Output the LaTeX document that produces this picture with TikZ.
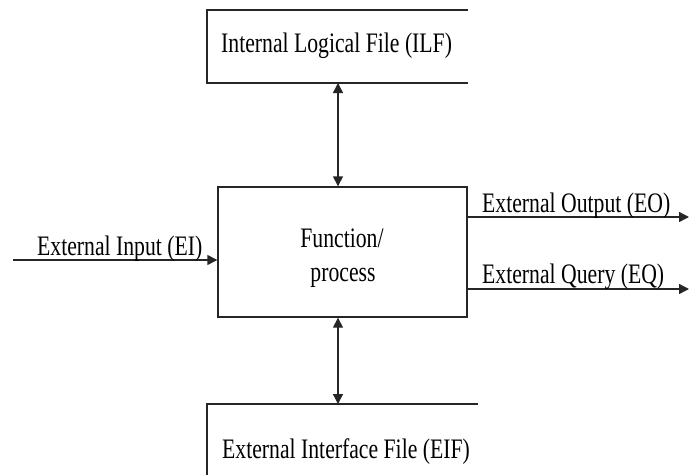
\documentclass[tikz,border=0pt]{standalone}
\usepackage{fontspec}
\setmainfont{Liberation Serif}
\usetikzlibrary{arrows.meta}
\newcommand{\tallText}[1]{\scalebox{1}[1.3]{#1}}
\tikzset{
  ln/.style={line width=1.4pt, draw=black!85},
  tip/.tip={Triangle[length=10pt,width=10pt]},
  arr/.style={ln, -tip},
  darr/.style={ln, tip-tip},
  lbl/.style={anchor=base west, inner sep=0pt, font=\fontsize{21.7}{26}\selectfont},
  ctr/.style={anchor=base, inner sep=0pt, font=\fontsize{21.7}{26}\selectfont},
}
\begin{document}
\begin{tikzpicture}[x=1pt,y=-1pt]
\useasboundingbox (0,0) rectangle (689,475);

% open-ended store boxes
\draw[ln] (468,10) -- (207,10) -- (207,83) -- (468,83);
\draw[ln] (478,404) -- (207,404) -- (207,475);
\node[lbl] (ilf) at (221,52) {\tallText{Internal Logical File (ILF)}};
\node[lbl] (eif) at (222,458) {\tallText{External Interface File (EIF)}};
\coordinate (ilfb) at (338,83);
\coordinate (eift) at (338,404);

% central process
\node[ln, draw, minimum width=249pt, minimum height=130pt, inner sep=0pt] (fp) at (342.5,252) {};
\node[ctr] (fpa) at (342,247) {\tallText{Function/}};
\node[ctr] (fpb) at (343,281) {\tallText{process}};

% data exchange with the files
\draw[darr] (ilfb) -- (fp.north -| ilfb);
\draw[darr] (fp.south -| eift) -- (eift);

% inputs and outputs
\coordinate (ein) at (13,260);
\coordinate (eo) at (689,217);
\coordinate (eq) at (689,289);
\draw[arr] (ein) -- (fp.west |- ein);
\draw[arr] (fp.east |- eo) -- (eo);
\draw[arr] (fp.east |- eq) -- (eq);
\node[lbl] (eil) at (37,255) {\tallText{External Input (EI)}};
\node[lbl] (eol) at (482,212) {\tallText{External Output (EO)}};
\node[lbl] (eql) at (482,283) {\tallText{External Query (EQ)}};
\end{tikzpicture}
\end{document}
